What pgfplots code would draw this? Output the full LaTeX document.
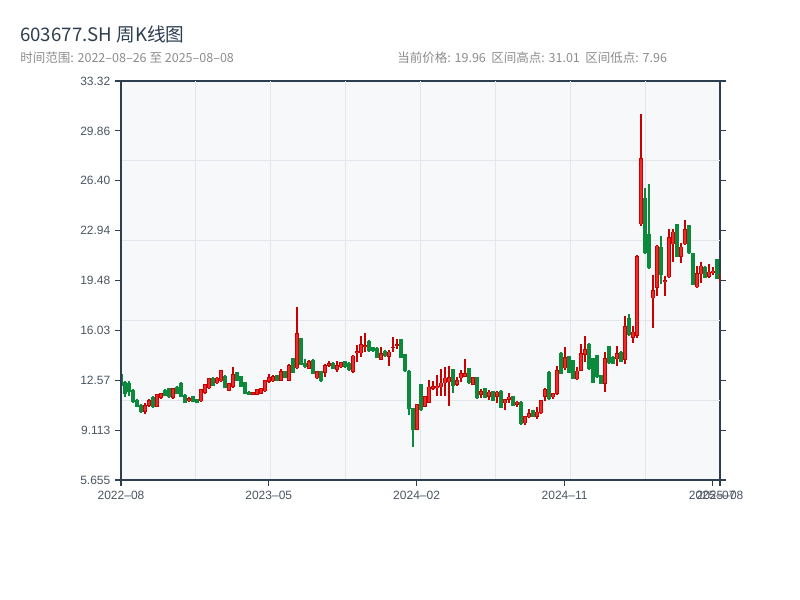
\documentclass[border=0pt]{standalone}
\usepackage{pgfplots}
\pgfplotsset{compat=1.18}
\usepackage{pgfplotstable}
\usepackage{fontspec}
\setmainfont{Liberation Sans}
\newfontfamily\cjk{Noto Sans CJK SC}

\definecolor{axisdark}{HTML}{2C3E50}
\definecolor{plotbg}{HTML}{F7F8FA}
\definecolor{gridcol}{HTML}{E3E6EC}
\definecolor{ticklab}{HTML}{4A5563}
\definecolor{titlecol}{HTML}{2C3E50}
\definecolor{subcol}{HTML}{8C8C8C}
\definecolor{upedge}{HTML}{C80000}
\definecolor{upfill}{HTML}{F02A2A}
\definecolor{downcol}{HTML}{0B8A3C}

% weekly candles, up weeks (close >= open)
\pgfplotstableread{
i O H L C
6 10.40 10.97 10.23 10.86
7 10.80 11.30 10.75 11.20
9 10.75 11.65 10.70 11.60
10 11.36 11.72 11.30 11.68
13 11.35 12.05 11.30 12.00
17 11.10 11.38 11.05 11.35
20 11.10 11.98 11.08 11.95
21 11.70 12.32 11.65 12.30
22 12.00 12.72 11.95 12.70
24 12.35 12.78 12.33 12.75
25 12.50 13.30 12.48 13.25
27 11.83 12.40 11.82 12.36
28 12.10 13.50 12.05 12.98
33 11.55 11.76 11.53 11.74
34 11.55 11.97 11.53 11.95
35 11.65 12.02 11.63 12.00
36 11.80 12.62 11.78 12.60
37 12.47 13.00 12.35 12.80
38 12.50 12.95 12.45 12.85
40 12.55 13.35 12.52 13.20
42 12.52 13.70 12.50 13.60
44 13.40 17.68 13.35 15.83
47 13.35 13.95 13.33 13.90
49 12.70 13.22 12.68 13.20
51 13.10 13.70 12.82 13.63
52 13.58 13.90 13.50 13.74
54 13.30 13.90 13.17 13.60
55 13.47 13.87 13.45 13.85
58 13.17 14.30 13.05 14.28
59 14.43 15.02 13.86 14.60
60 14.44 15.64 14.21 15.09
61 14.85 15.83 14.55 15.00
65 14.00 14.85 13.98 14.44
67 14.20 14.67 13.58 14.55
68 14.78 15.55 14.55 14.85
69 14.95 15.43 14.74 15.05
74 9.12 10.95 9.10 10.93
76 10.74 11.50 10.70 11.48
77 11.02 12.59 10.99 12.13
78 11.97 12.54 11.90 12.18
79 12.00 12.94 11.50 12.20
80 12.08 13.35 11.50 12.40
81 12.36 13.50 11.50 12.75
82 12.43 13.56 10.81 12.80
84 12.24 12.82 12.20 12.59
85 12.70 13.28 12.47 13.05
86 12.82 14.05 12.78 13.05
88 12.24 12.80 12.22 12.77
90 11.55 11.96 11.36 11.83
92 11.43 11.92 11.20 11.78
94 11.43 11.80 10.97 11.78
96 10.97 11.30 10.50 11.25
97 11.20 11.67 11.00 11.43
99 10.86 11.15 10.75 11.09
101 9.58 10.12 9.47 10.09
102 10.00 10.58 9.95 10.28
104 10.05 10.74 9.89 10.40
105 10.28 11.22 10.26 11.20
106 11.44 12.01 11.16 11.94
108 11.39 11.70 11.30 11.67
109 11.62 13.56 11.55 13.28
111 13.40 14.90 13.30 14.16
114 12.64 13.47 12.58 13.24
115 13.24 15.10 13.20 14.44
116 14.32 15.64 13.86 14.72
121 12.31 14.55 11.78 14.09
124 14.02 14.95 13.58 14.44
126 14.00 17.03 13.70 16.30
128 15.50 16.30 15.15 15.95
129 15.64 21.26 15.50 21.20
130 23.38 31.01 23.30 27.96
133 18.25 19.87 16.17 18.83
134 18.99 21.95 18.44 21.90
136 19.36 19.80 18.44 19.52
137 19.71 23.06 19.65 22.49
138 21.99 23.06 20.80 22.88
140 21.15 22.11 20.68 21.84
141 21.99 23.68 21.95 23.06
144 19.02 20.50 18.95 19.99
145 19.92 20.75 19.29 20.52
147 19.76 20.61 19.64 20.10
148 19.99 20.45 19.87 20.17
150 19.41 20.56 19.39 19.96
}\upcandles

% down weeks (close < open)
\pgfplotstableread{
i O H L C
0 13.00 13.10 12.00 12.15
1 12.45 12.55 11.40 11.60
2 12.40 12.50 11.50 11.75
3 11.90 11.95 11.00 11.05
4 11.20 11.25 10.70 10.75
5 10.85 10.90 10.30 10.35
8 11.40 11.45 10.65 10.72
11 11.90 11.95 11.45 11.50
12 12.00 12.05 11.35 11.40
14 12.10 12.15 11.60 11.65
15 12.40 12.42 11.38 11.40
16 11.55 11.60 10.98 11.00
18 11.45 11.48 11.03 11.06
19 11.25 11.28 11.00 11.02
23 12.75 12.78 12.18 12.20
26 12.87 12.95 12.00 12.01
29 13.12 13.17 12.50 12.52
30 12.87 12.90 12.12 12.13
31 12.43 12.45 11.60 11.62
32 11.78 11.80 11.54 11.55
39 12.93 12.96 12.50 12.52
41 13.20 13.22 12.72 12.75
43 14.10 14.12 13.08 13.10
45 15.48 15.50 13.60 13.63
46 13.80 14.05 13.40 13.50
48 14.00 14.03 12.98 13.00
50 13.20 13.24 12.47 12.50
53 13.80 13.85 13.35 13.37
56 13.88 13.90 13.45 13.47
57 13.80 13.85 13.20 13.30
62 15.29 15.35 14.55 14.58
63 14.85 14.90 14.55 14.60
64 14.80 14.85 14.10 14.12
66 14.60 14.65 14.20 14.25
70 15.43 15.45 14.10 14.12
71 14.40 14.42 13.17 13.20
72 13.24 13.28 10.16 10.56
73 10.62 10.65 7.96 9.12
75 12.30 12.32 10.46 10.50
83 13.35 13.37 11.67 12.20
87 13.40 13.42 12.34 12.36
89 12.77 12.79 11.30 11.32
91 12.00 12.02 11.34 11.36
93 11.83 11.85 11.13 11.15
95 11.85 11.87 10.65 10.67
98 11.48 11.50 10.79 10.81
100 11.09 11.11 9.49 9.51
103 10.51 10.53 10.03 10.05
107 13.17 13.19 11.23 11.25
110 14.48 14.50 12.98 13.00
112 14.25 14.28 13.08 13.10
113 13.97 14.00 12.64 12.66
117 15.09 15.12 13.31 13.33
118 14.09 14.12 12.38 12.40
119 14.32 14.35 12.75 12.77
120 12.94 12.96 12.29 12.31
122 14.95 14.97 13.72 13.74
123 14.21 14.23 13.68 13.70
125 14.55 14.57 13.84 13.86
127 16.90 17.17 15.62 15.70
131 25.19 25.88 21.35 21.37
132 22.70 26.20 20.31 20.33
135 21.84 22.58 19.25 19.87
139 23.40 23.42 21.13 21.15
142 23.34 23.36 21.35 21.37
143 21.37 21.40 19.16 19.18
146 20.45 20.48 19.66 19.68
149 20.98 21.00 19.58 19.60
}\downcandles

\pgfplotsset{
    candle/.style n args={2}{
        draw=none, mark=none, forget plot,
        error bars/.cd, y dir=plus, y explicit, error mark=none,
        error bar style={line width=#1, draw=#2, solid}},
}

\begin{document}
\begin{tikzpicture}
\path[use as bounding box] (0,0) rectangle (600pt,450pt);

\node[anchor=west, inner sep=0pt, text=titlecol, font=\cjk\fontsize{14pt}{16pt}\selectfont]
  at (15pt,424.5pt) {603677.SH 周K线图};
\node[anchor=west, inner sep=0pt, text=subcol, font=\cjk\fontsize{9.4pt}{11pt}\selectfont]
  at (15pt,406.5pt) {时间范围: 2022–08–26 至 2025–08–08};
\node[anchor=west, inner sep=0pt, text=subcol, font=\cjk\fontsize{9.4pt}{11pt}\selectfont]
  at (297.75pt,406.5pt) {当前价格: 19.96\hspace{4pt}区间高点: 31.01\hspace{4pt}区间低点: 7.96};

\begin{axis}[
    at={(90.75pt,90pt)}, anchor=south west,
    scale only axis,
    width=449.25pt, height=299.25pt,
    xmin=0, xmax=149.75,
    ymin=5.655, ymax=33.32,
    axis background/.style={fill=plotbg},
    axis line style={draw=axisdark, line width=0.9pt},
    xtick={0,36.94,73.9,110.9,147.8,149.75},
    xticklabels={2022–08,2023–05,2024–02,2024–11,2025–07,2025–08},
    ytick={5.655,9.113,12.571,16.029,19.487,22.945,26.403,29.861,33.32},
    yticklabels={5.655,9.113,12.57,16.03,19.48,22.94,26.40,29.86,33.32},
    xtick pos=bottom, ytick pos=both, yticklabel pos=left,
    tick align=outside,
    major tick length=4.5pt,
    major tick style={draw=axisdark, line width=0.9pt},
    tick label style={font=\fontsize{9pt}{11pt}\selectfont, text=ticklab},
    extra x ticks={18.72,37.44,56.16,74.88,93.59,112.31,131.03},
    extra x tick labels={},
    extra y ticks={11.188,16.721,22.254,27.787},
    extra y tick labels={},
    extra tick style={grid=major, major tick length=0pt,
        major grid style={draw=gridcol, line width=0.75pt}},
    after end axis/.code={
        \draw[axisdark, line width=1.6pt] (rel axis cs:0,0) -- (rel axis cs:0,1);
        \draw[axisdark, line width=1.6pt] (rel axis cs:0,0) -- (rel axis cs:1,0);
    },
]
% wicks
\addplot[candle={0.9pt}{downcol}]
    table[x=i, y=L, y error plus expr=\thisrow{H}-\thisrow{L}] {\downcandles};
\addplot[candle={0.9pt}{upedge}]
    table[x=i, y=L, y error plus expr=\thisrow{H}-\thisrow{L}] {\upcandles};
% bodies
\addplot[candle={2.3pt}{downcol}]
    table[x=i, y=C, y error plus expr={max(\thisrow{O}-\thisrow{C},0.08)}] {\downcandles};
\addplot[candle={2.3pt}{upedge}]
    table[x=i, y=O, y error plus expr={max(\thisrow{C}-\thisrow{O},0.08)}] {\upcandles};
\addplot[candle={0.9pt}{upfill}]
    table[x=i, y expr=\thisrow{O}+0.05, y error plus expr={max(\thisrow{C}-\thisrow{O}-0.1,0.001)}] {\upcandles};
\end{axis}
\end{tikzpicture}
\end{document}
